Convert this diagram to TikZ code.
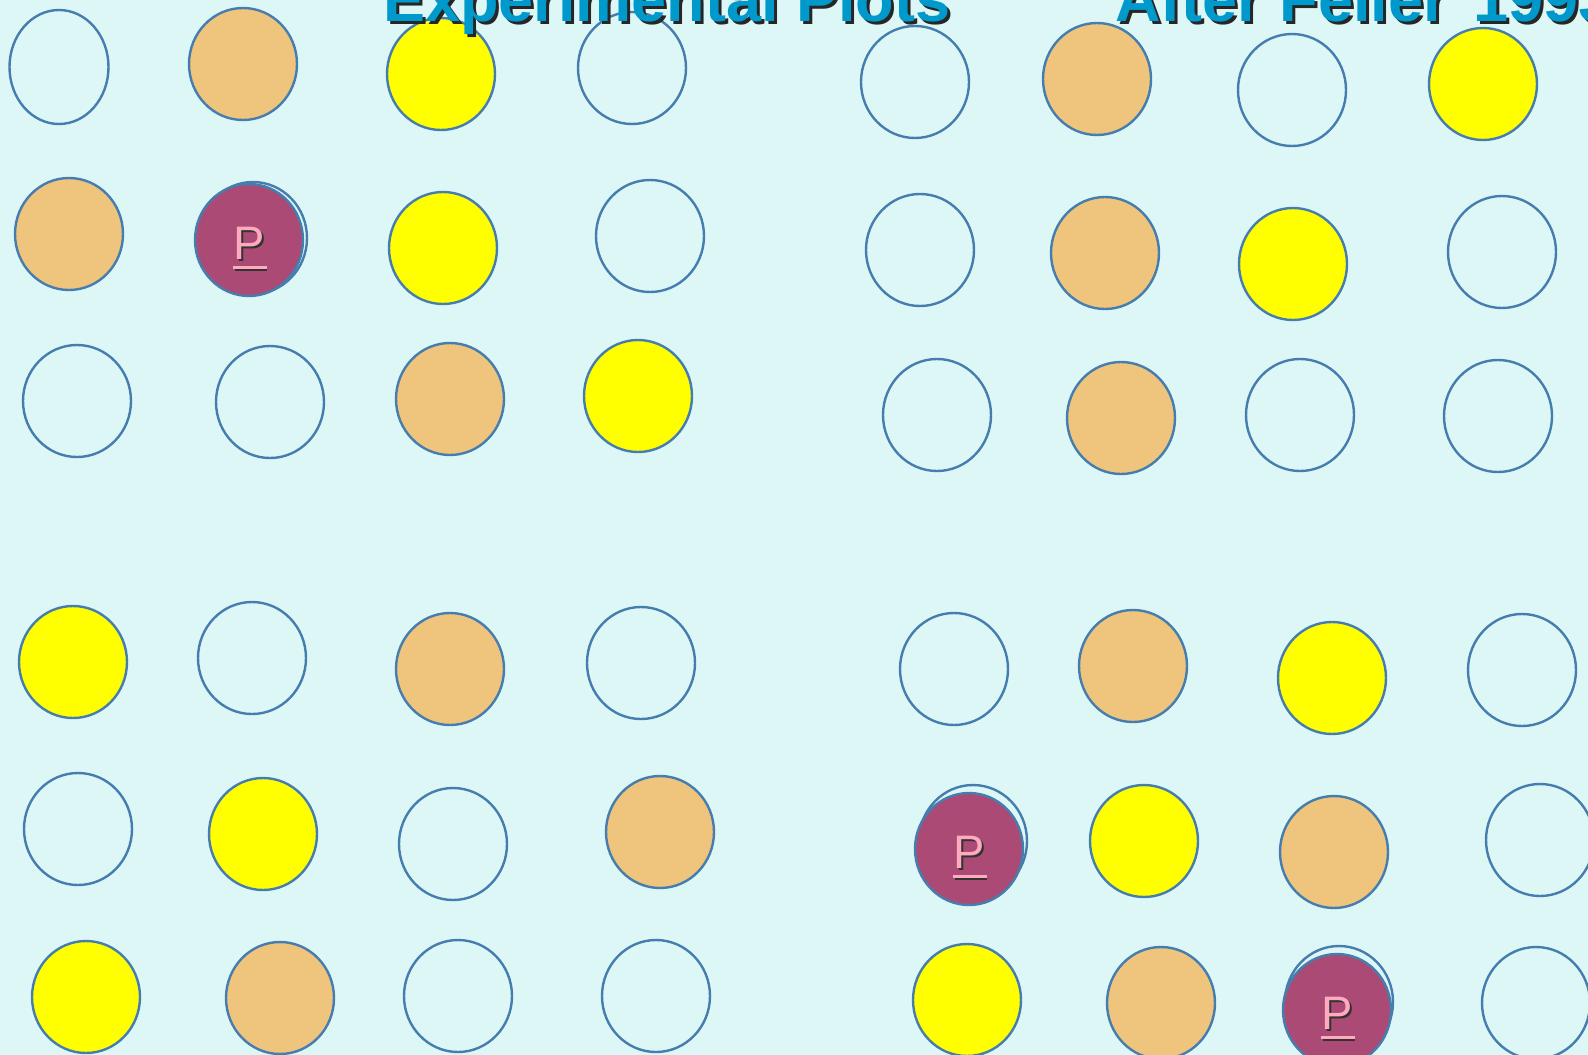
\documentclass[tikz,border=0pt]{standalone}
\usepackage{fontspec}
\usetikzlibrary{calc}
\newfontfamily\arialfont{Liberation Sans}

\definecolor{bgcyan}{RGB}{221,247,246}
\definecolor{ringblue}{RGB}{70,125,175}
\definecolor{peach}{RGB}{239,196,125}
\definecolor{plotyellow}{RGB}{255,255,0}
\definecolor{plum}{RGB}{170,74,117}
\definecolor{pinkp}{RGB}{255,170,190}
\definecolor{titleblue}{RGB}{0,153,204}

\newcommand{\plotrx}{54}
\newcommand{\plotry}{56}

\begin{document}
\begin{tikzpicture}[x=1pt, y=-1pt,
  emptyplot/.style={draw=ringblue, line width=2.4pt},
  peachplot/.style={emptyplot, fill=peach},
  yellowplot/.style={emptyplot, fill=plotyellow},
  plumplot/.style={emptyplot, fill=plum},
  titletext/.style={anchor=base west, inner sep=0pt, text=titleblue,
    font=\arialfont\bfseries\fontsize{63}{63}\selectfont},
  ptext/.style={anchor=base, inner sep=0pt, text=pinkp,
    font=\arialfont\fontsize{47}{47}\selectfont}]
  \useasboundingbox (0,0) rectangle (1588,1055);
  \clip (0,0) rectangle (1588,1055);
  \fill[bgcyan] (0,0) rectangle (1588,1055);

  % empty plots
  \draw[emptyplot] (59,67) ellipse [x radius=49.5, y radius=57];
  \foreach \cx/\cy in {632/68, 915/82, 1292/90, 650/236, 920/250, 1502/252,
      77/401, 270/402, 937/415, 1300/415, 1498/416,
      252/658, 641/663, 954/669, 1522/670, 78/829, 453/844, 1540/840,
      458/996, 656/996, 1536/1003}
    \draw[emptyplot] (\cx,\cy) ellipse [x radius=\plotrx, y radius=\plotry];

  % peach plots
  \foreach \cx/\cy in {243/64, 1097/79, 69/234, 1105/253, 450/399, 1121/418,
      450/669, 1133/666, 660/832, 1334/852, 280/998, 1161/1003}
    \draw[peachplot] (\cx,\cy) ellipse [x radius=\plotrx, y radius=\plotry];

  % yellow plots
  \foreach \cx/\cy in {441/74, 1483/84, 443/248, 1293/264, 638/396,
      73/662, 1332/678, 263/834, 1144/841, 86/997, 967/1000}
    \draw[yellowplot] (\cx,\cy) ellipse [x radius=\plotrx, y radius=\plotry];

  % P plots
  \foreach \cx/\cy/\bx/\by/\nm in {249/240/253/238/pA, 969/849/973/841/pB,
      1337/1010/1339/1002/pC} {
    \draw[emptyplot] (\bx,\by) ellipse [x radius=\plotrx, y radius=\plotry];
    \draw[plumplot] (\cx,\cy) ellipse [x radius=\plotrx, y radius=\plotry];
    \node[ptext, text=black!80] at ($(\cx,\cy)+(2,21)$) {P};
    \draw[black!80, line width=3pt] ($(\cx,\cy)+(-14,29)$) -- ($(\cx,\cy)+(18,29)$);
    \node[ptext] (\nm) at ($(\cx,\cy)+(0,19)$) {P};
    \draw[pinkp, line width=3pt] ([yshift=-8pt]\nm.base west) -- ([yshift=-8pt, xshift=2pt]\nm.base east);
  }

  % titles
  \node[titletext, text=black!85] at (386,24) {Experimental Plots};
  \node[titletext] (title1) at (383,21) {Experimental Plots};
  \node[titletext, text=black!85] at (1118,24) {After Feller\kern8pt{} 1993};
  \node[titletext] (title2) at (1115,21) {After Feller\kern8pt{} 1993};
\end{tikzpicture}
\end{document}
